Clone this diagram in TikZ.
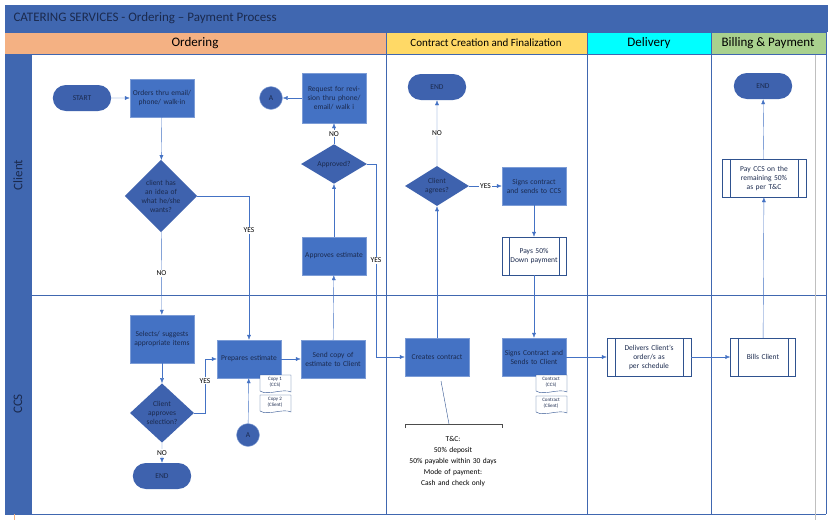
\documentclass[tikz,border=0pt]{standalone}
\usepackage{fontspec}
\setmainfont{Carlito}
\usetikzlibrary{shapes.geometric,shapes.misc,arrows.meta,calc}
\definecolor{lane}{HTML}{4067B0}
\definecolor{nfill}{HTML}{4472C4}
\definecolor{dfill}{HTML}{3E62AE}
\definecolor{txt}{HTML}{1B2A4E}
\definecolor{edge}{HTML}{4472C4}
\definecolor{bord}{HTML}{2F528F}
\definecolor{horange}{RGB}{244,177,131}
\definecolor{hyellow}{RGB}{255,217,102}
\definecolor{hcyan}{RGB}{0,255,255}
\definecolor{hgreen}{RGB}{169,209,142}
\begin{document}
\begin{tikzpicture}[x=1pt,y=-1pt,
  box/.style={draw=nfill!70!white,fill=nfill,text=txt,font=\fontsize{7.5}{9}\selectfont,align=center,minimum width=64pt,minimum height=38pt,inner sep=1pt,text width=60pt},
  dia/.style={diamond,fill=dfill,text=txt,font=\fontsize{7.5}{9}\selectfont,align=center,inner sep=0pt},
  term/.style={rounded rectangle,fill=dfill,text=txt,font=\fontsize{7.5}{9}\selectfont,minimum width=65pt,minimum height=26pt},
  conn/.style={circle,fill=dfill,draw=nfill!60!white,text=txt,font=\fontsize{7.5}{9}\selectfont,minimum size=23pt,inner sep=0pt},
  pp/.style={draw=bord,fill=white,text=txt,font=\fontsize{7.5}{9}\selectfont,align=center,minimum width=64pt,minimum height=38pt,text width=48pt,inner sep=1pt},
  doc/.style={font=\fontsize{5}{6}\selectfont,text=txt,align=center},
  ar/.style={draw=edge,-{Latex[length=5pt,width=4pt]}},
  lbl/.style={fill=white,font=\fontsize{7.5}{9}\selectfont,inner sep=1pt}
]
\useasboundingbox (0,0) rectangle (833,520);
\fill[white] (0,0) rectangle (833,520);
% title and headers
\fill[lane] (5,5) rectangle (828,32);
\node[anchor=west,font=\fontsize{13}{15}\selectfont,text=txt] (title) at (10,18) {CATERING SERVICES - Ordering – Payment Process};
\fill[horange] (5,32) rectangle (386,54);
\fill[hyellow] (386,32) rectangle (587,54);
\fill[hcyan] (587,32) rectangle (711,54);
\fill[hgreen] (711,32) rectangle (826,54);
\node[font=\fontsize{13}{15}\selectfont] (h1) at (195,43) {Ordering};
\node[font=\fontsize{11}{13}\selectfont] (h2) at (486,43) {Contract Creation and Finalization};
\node[font=\fontsize{13}{15}\selectfont] (h3) at (649,43) {Delivery};
\node[font=\fontsize{13}{15}\selectfont] (h4) at (768,43) {Billing \& Payment};
\fill[lane] (5,54) rectangle (31,514);
\node[rotate=90,font=\fontsize{13}{15}\selectfont,text=txt] (l1) at (18,175) {Client};
\node[rotate=90,font=\fontsize{13}{15}\selectfont,text=txt] (l2) at (18,404) {CCS};
\draw[lane,line width=0.8pt] (5,32)--(826,32) (5,54)--(826,54) (31,295)--(826,295) (5,514)--(826,514)
  (386,32)--(386,514) (587,32)--(587,514) (711,32)--(711,514) (826,32)--(826,514) (31,54)--(31,514);
\draw[gray!50] (815,55)--(815,520);
\draw[horange] (14,514)--(14,520);
% client lane ordering
\node[term] (start) at (82,98) {START};
\node[box] (orders) at (162,98) {Orders thru email/ phone/ walk-in};
\node[conn] (a1) at (271,98) {A};
\node[box,minimum height=50pt] (req) at (334,98) {Request for revision thru phone/ email/ walk i};
\node[dia,minimum width=66pt,minimum height=38pt] (appd) at (334,164) {Approved?};
\node[dia,minimum width=64pt,minimum height=64pt,text width=40pt] (idea) at (161,196) {client has an idea of what he/she wants?};
\node[box] (appe) at (334,256) {Approves estimate};
% ccs lane ordering
\node[box,minimum height=48pt] (sel) at (162,339) {Selects/ suggests appropriate items};
\node[box] (prep) at (249,359) {Prepares estimate};
\node[box] (send) at (333,359) {Send copy of estimate to Client};
\node[dia,minimum width=64pt,minimum height=48pt,text width=36pt] (capp) at (162,413) {Client approves selection?};
\node[conn] (a2) at (248,435) {A};
\node[term] (end1) at (162,476) {END};
\draw[bord,fill=white] (260,375) -- (291,375) -- (291,392) .. controls (283,388) and (268,396) .. (260,391) -- cycle;
\node[doc] (c1) at (275,382) {Copy 1\\(CCS)};
\draw[bord,fill=white] (260,395) -- (291,395) -- (291,412) .. controls (283,408) and (268,416) .. (260,411) -- cycle;
\node[doc] (c2) at (275,402) {Copy 2\\(Client)};
% contract
\node[term] (end2) at (437,87) {END};
\node[dia,minimum width=64pt,minimum height=40pt] (agr) at (437,186) {Client\\agrees?};
\node[box] (signs) at (534,186) {Signs contract and sends to CCS};
\node[pp] (pays) at (534,256) {Pays 50\% Down payment};
\draw[bord] ($(pays.north west)+(7,0)$)--($(pays.south west)+(7,0)$) ($(pays.north east)+(-7,0)$)--($(pays.south east)+(-7,0)$);
\node[box] (creates) at (437,357) {Creates contract};
\node[box] (signc) at (534,357) {Signs Contract and Sends to Client};
\draw[bord,fill=white] (536,375) -- (567,375) -- (567,392) .. controls (559,388) and (544,396) .. (536,391) -- cycle;
\node[doc] (k1) at (551,382) {Contract\\(CCS)};
\draw[bord,fill=white] (536,396) -- (567,396) -- (567,413) .. controls (559,409) and (544,417) .. (536,412) -- cycle;
\node[doc] (k2) at (551,403) {Contract\\(Client)};
\draw[black!70] (405,428)--(405,424)--(502,424)--(502,428);
\node[font=\fontsize{7.5}{11}\selectfont,align=center,text width=100pt] (tc) at (453,462) {T\&C:\\50\% deposit\\50\% payable within 30 days\\Mode of payment: Cash and check only};
\coordinate (tctop) at (449,424);
\draw[bord] (441,381) -- (tctop);
% delivery & billing
\node[pp,minimum width=84pt,text width=66pt] (del) at (649,357) {Delivers Client's order/s as per schedule};
\draw[bord] ($(del.north west)+(8,0)$)--($(del.south west)+(8,0)$) ($(del.north east)+(-8,0)$)--($(del.south east)+(-8,0)$);
\node[pp,minimum width=65pt] (bills) at (763,357) {Bills Client};
\draw[bord] ($(bills.north west)+(8,0)$)--($(bills.south west)+(8,0)$) ($(bills.north east)+(-8,0)$)--($(bills.south east)+(-8,0)$);
\node[pp,minimum width=84pt,text width=66pt] (pay) at (764,178) {Pay CCS on the remaining 50\% as per T\&C};
\draw[bord] ($(pay.north west)+(8,0)$)--($(pay.south west)+(8,0)$) ($(pay.north east)+(-8,0)$)--($(pay.south east)+(-8,0)$);
\node[term] (end3) at (763,86) {END};
% edges
\draw[ar] (start) -- (orders);
\draw[ar] (orders) -- (idea);
\draw[ar] (idea) -- node[lbl,pos=0.5]{NO} (sel);
\draw[ar] (idea.east) -| node[lbl,pos=0.62]{YES} (prep.north);
\draw[ar] (sel) -- (capp);
\draw[ar] (capp) -- node[lbl]{NO} (end1);
\draw[ar] (capp.east) -- (205,413) |- node[lbl,pos=0.3]{YES} (prep.west);
\draw[ar] (a2) -- (prep);
\draw[ar] (prep) -- (send);
\draw[ar] (send) -- (appe);
\draw[ar] (appe) -- (appd);
\draw[ar] (appd) -- node[lbl]{NO} (req);
\draw[ar] (req) -- (a1);
\draw[ar] (appd.east) -- (376,164) |- node[lbl,pos=0.25]{YES} (creates.west);
\draw[ar] (creates) -- (agr);
\draw[ar] (agr) -- node[lbl]{NO} (end2);
\draw[ar] (agr) -- node[lbl]{YES} (signs);
\draw[ar] (signs) -- (pays);
\draw[ar] (pays) -- (signc);
\draw[ar] (signc) -- (del);
\draw[ar] (del) -- (bills);
\draw[ar] (bills) -- (pay);
\draw[ar] (pay) -- (end3);
\end{tikzpicture}
\end{document}
